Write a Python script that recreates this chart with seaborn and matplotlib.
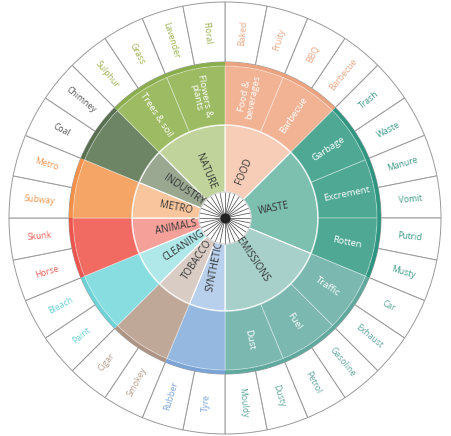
import numpy as np
import matplotlib
matplotlib.use("Agg")
import matplotlib.pyplot as plt
import seaborn as sns

sns.set_style("white")
plt.rcParams['font.family'] = ['Open Sans', 'DejaVu Sans']

leaves = ["Baked", "Fruity", "BBQ", "Barbecue", "Trash", "Waste", "Manure", "Vomit",
          "Putrid", "Musty", "Car", "Exhaust", "Gasoline", "Petrol", "Dusty", "Mouldy",
          "Tyre", "Rubber", "Smokey", "Cigar", "Paint", "Bleach", "Horse", "Skunk",
          "Subway", "Metro", "Coal", "Chimney", "Sulphur", "Grass", "Lavender", "Floral"]
categories = ["FOOD", "WASTE", "EMISSIONS", "SYNTHETIC", "TOBACCO", "CLEANING",
              "ANIMALS", "METRO", "INDUSTRY", "NATURE"]
cat_sizes = [4, 6, 6, 2, 2, 2, 2, 2, 2, 4]
subcats = ["Food &\nbeverages", "Barbecue", "Garbage", "Excrement", "Rotten",
           "Traffic", "Fuel", "Dust", "", "", "", "", "", "", "Trees & soil", "Flowers &\nplants"]
sub_sizes = [2, 2, 2, 2, 2, 2, 2, 2, 2, 2, 2, 2, 2, 2, 2, 2]
sub_cat = [0, 0, 1, 1, 1, 2, 2, 2, 3, 4, 5, 6, 7, 8, 9, 9]

mid_col = ["#F2B394", "#4FA894", "#7BB8B0", "#94B8E0", "#BFA898", "#88DDE0",
           "#F26B63", "#F5A565", "#6E8565", "#9DBB62"]
in_col = ["#F7CDB8", "#7EC0B0", "#A8D0CA", "#B8D0EC", "#D8CCC4", "#B0E8EA",
          "#F6A09A", "#F8C59C", "#9AA892", "#BFD39A"]
rim_col = ["#EBA27E", "#2E9680", "#5FA89E", "#7AA4D6", "#AE9484", "#6CD2D6",
           "#EC544C", "#F2904A", "#58704F", "#8AAE4C"]
txt_col = ["#EBA784", "#3A9A86", "#5FA89E", "#7AA4D6", "#B49C8C", "#6CCFD4",
           "#EC5C54", "#F2944E", "#555555", "#9AB04E"]

fig = plt.figure(figsize=(4.51, 4.36), dpi=100)
ax = fig.add_axes([(225 - 218) / 451, 0, 436 / 451, 1], projection="polar")
ax.set_theta_offset(np.pi / 2)
ax.set_theta_direction(-1)
ax.set_ylim(0, 218)
ax.axis("off")

step = 2 * np.pi / len(leaves)
R_hub, R_mid, R_rim, R_out, R_end = 26, 93, 152, 156, 216

def rot(theta_cw):
    a = np.degrees(np.pi / 2 - theta_cw)
    a = (a + 180) % 360 - 180
    return a if -90 <= a <= 90 else a - 180 if a > 90 else a + 180

leaf_cat = []
for ci, s in enumerate(cat_sizes):
    leaf_cat += [ci] * s

for i, name in enumerate(leaves):
    th = (i + 0.5) * step
    ax.bar(th, R_end - R_out, width=step, bottom=R_out, color="white",
           edgecolor="#9a9a9a", linewidth=0.7)
    ax.text(th, 186, name, rotation=rot(th), rotation_mode="anchor",
            ha="center", va="center", fontsize=6.2, color=txt_col[leaf_cat[i]])

start = 0
for ci, (name, s) in enumerate(zip(categories, cat_sizes)):
    th0 = start * step
    w = s * step
    ax.bar(th0, R_mid - R_hub, width=w, bottom=R_hub, align="edge", color=in_col[ci],
           edgecolor="white", linewidth=0.8)
    ax.bar(th0, R_out - R_rim, width=w, bottom=R_rim, align="edge", color=rim_col[ci],
           linewidth=0)
    thc = th0 + w / 2
    ax.text(thc, 50, name, rotation=rot(thc), rotation_mode="anchor", ha="center",
            va="center", fontsize=7, color="#333333")
    start += s

start = 0
for name, s, ci in zip(subcats, sub_sizes, sub_cat):
    th0 = start * step
    w = s * step
    ax.bar(th0, R_rim - R_mid, width=w, bottom=R_mid, align="edge", color=mid_col[ci],
           edgecolor=(1, 1, 1, 0.35), linewidth=0.7)
    if name:
        thc = th0 + w / 2
        ax.text(thc, 124, name, rotation=rot(thc), rotation_mode="anchor", ha="center",
                va="center", fontsize=6.8, color="white", linespacing=0.95)
    start += s

tt = np.linspace(0, 2 * np.pi, 400)
ax.plot(tt, np.full_like(tt, R_mid), color=(1, 1, 1, 0.6), linewidth=1.2)

ax.bar(0, R_hub, width=2 * np.pi, bottom=0, color="white", linewidth=0)
for i in range(len(leaves)):
    ax.plot([i * step, i * step], [0, R_hub], color="#444444", linewidth=0.5)
ax.plot(tt, np.full_like(tt, R_hub), color="#cccccc", linewidth=0.6)
ax.scatter([0], [0], s=40, color="#222222", zorder=5)

fig.savefig("out.png", dpi=100)
